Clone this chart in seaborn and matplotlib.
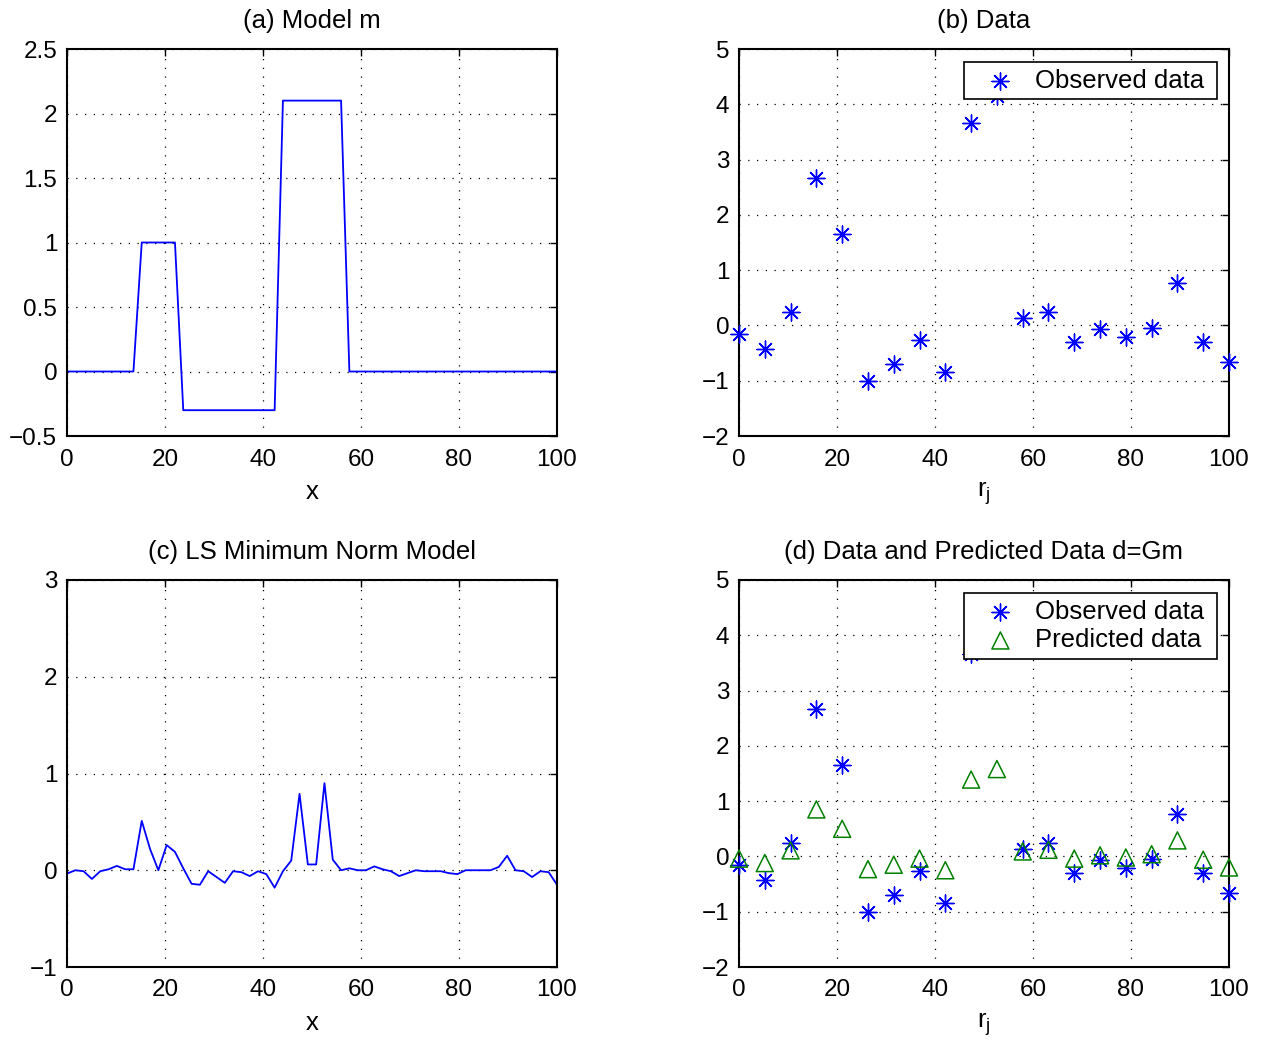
import numpy as np
import pandas as pd
import matplotlib
matplotlib.use("Agg")
import matplotlib.pyplot as plt
import seaborn as sns

# ---------------- data ----------------
x_model = np.linspace(0, 100, 60)          # model grid
r_j = np.linspace(0, 100, 20)              # data positions

model_m = [0, 0, 0, 0, 0, 0, 0, 0, 0,
           1, 1, 1, 1, 1,
           -0.3, -0.3, -0.3, -0.3, -0.3, -0.3, -0.3, -0.3, -0.3, -0.3, -0.3, -0.3,
           2.1, 2.1, 2.1, 2.1, 2.1, 2.1, 2.1, 2.1,
           0, 0, 0, 0, 0, 0, 0, 0, 0, 0, 0, 0, 0, 0, 0, 0, 0, 0, 0, 0, 0, 0, 0, 0, 0, 0]

ls_model = [-0.035, 0.0, -0.01, -0.09, -0.01, 0.01, 0.045, 0.01, 0.01, 0.51,
            0.22, 0.0, 0.26, 0.19, 0.02, -0.14, -0.15, -0.01, -0.07, -0.13,
            -0.01, -0.02, -0.06, -0.01, -0.04, -0.18, -0.01, 0.10, 0.79, 0.06,
            0.06, 0.90, 0.11, 0.0, 0.02, 0.0, 0.0, 0.04, 0.01, -0.01,
            -0.06, -0.03, 0.0, -0.01, -0.01, -0.01, -0.03, -0.04, 0.0, 0.0,
            0.0, 0.0, 0.035, 0.15, 0.0, -0.01, -0.07, -0.01, -0.02, -0.15]

observed = [-0.16, -0.43, 0.24, 2.67, 1.66, -1.0, -0.70, -0.27, -0.84, 3.66,
            4.15, 0.14, 0.24, -0.30, -0.07, -0.21, -0.04, 0.77, -0.30, -0.67]

predicted = [-0.04, -0.12, 0.11, 0.85, 0.50, -0.23, -0.15, -0.04, -0.25, 1.39,
             1.58, 0.09, 0.12, -0.04, 0.02, -0.02, 0.04, 0.29, -0.06, -0.20]

titles = ["(a) Model m", "(b) Data", "(c) LS Minimum Norm Model",
          "(d) Data and Predicted Data d=Gm"]
legend_labels = ["Observed data", "Predicted data"]
xticks = [0, 20, 40, 60, 80, 100]
yticks_a = [-0.5, 0, 0.5, 1, 1.5, 2, 2.5]
yticks_bd = [-2, -1, 0, 1, 2, 3, 4, 5]
yticks_c = [-1, 0, 1, 2, 3]

# ---------------- style ----------------
sns.set_theme(style="white")
plt.rcParams['font.family'] = ['Liberation Sans', 'DejaVu Sans']
plt.rcParams['mathtext.fontset'] = 'custom'
plt.rcParams['mathtext.rm'] = 'Liberation Sans'
for k in ('text.color', 'axes.labelcolor', 'xtick.color', 'ytick.color'):
    plt.rcParams[k] = 'black'
FS = 17.5
FS_T = 18.5

fig = plt.figure(figsize=(12.63, 10.42), dpi=100)
W = 490 / 1263
H = 387 / 1042
ax_a = fig.add_axes([67 / 1263, 1 - 436 / 1042, W, H])
ax_b = fig.add_axes([739 / 1263, 1 - 436 / 1042, W, H])
ax_c = fig.add_axes([67 / 1263, 1 - 967 / 1042, W, H])
ax_d = fig.add_axes([739 / 1263, 1 - 967 / 1042, W, H])

blue = (0, 0, 1)
green = (0, 0.5, 0)
ast = (8, 2, 0)


def style(ax, yticks, title, xlabel):
    ax.set_xlim(0, 100)
    ax.set_ylim(yticks[0], yticks[-1])
    ax.set_xticks(xticks)
    ax.set_yticks(yticks)
    ax.set_yticklabels([f"{t:g}".replace('-', '\u2212') for t in yticks])
    ax.tick_params(direction='in', top=True, right=True, length=5, width=1,
                   labelsize=FS, colors='black')
    ax.tick_params(axis='x', pad=9)
    ax.tick_params(axis='y', pad=7)
    ax.grid(True, color='black', linestyle=(0, (1, 6)), linewidth=0.9)
    for s in ax.spines.values():
        s.set_color('black')
        s.set_linewidth(1.5)
    ax.set_title(title, fontsize=FS_T, pad=15, color='black')
    ax.set_xlabel(xlabel, fontsize=FS_T, labelpad=7, color='black')
    ax.set_ylabel('')


# (a)
sns.lineplot(x=x_model, y=model_m, ax=ax_a, color=blue, linewidth=1.3)
style(ax_a, yticks_a, titles[0], 'x')

# (c)
sns.lineplot(x=x_model, y=ls_model, ax=ax_c, color=blue, linewidth=1.3)
style(ax_c, yticks_c, titles[2], 'x')

# (b)
sns.scatterplot(x=r_j, y=observed, ax=ax_b, marker=ast, s=150, color=blue,
                edgecolor=blue, linewidth=1.0, label=legend_labels[0] + " ",
                zorder=3, clip_on=False)
style(ax_b, yticks_bd, titles[1], r'$\mathregular{r_j}$')

# (d)
sns.scatterplot(x=r_j, y=observed, ax=ax_d, marker=ast, s=150, color=blue,
                edgecolor=blue, linewidth=1.0, label=legend_labels[0] + " ",
                zorder=3, clip_on=False)
sns.scatterplot(x=r_j, y=predicted, ax=ax_d, marker='^', s=150,
                facecolor='none', edgecolor=green, linewidth=1.1,
                label=legend_labels[1] + " ", zorder=3, clip_on=False)
style(ax_d, yticks_bd, titles[3], r'$\mathregular{r_j}$')

for ax in (ax_b, ax_d):
    leg = ax.legend(loc='upper right', bbox_to_anchor=(0.976, 0.966),
                    borderaxespad=0, fontsize=FS_T, frameon=True, fancybox=False,
                    framealpha=1, edgecolor='black', handletextpad=0.18,
                    borderpad=0.25, labelspacing=0.18, handlelength=2.3)
    leg.get_frame().set_linewidth(1.2)
    leg.set_zorder(10)

fig.savefig('out.png', dpi=100, facecolor='white')
